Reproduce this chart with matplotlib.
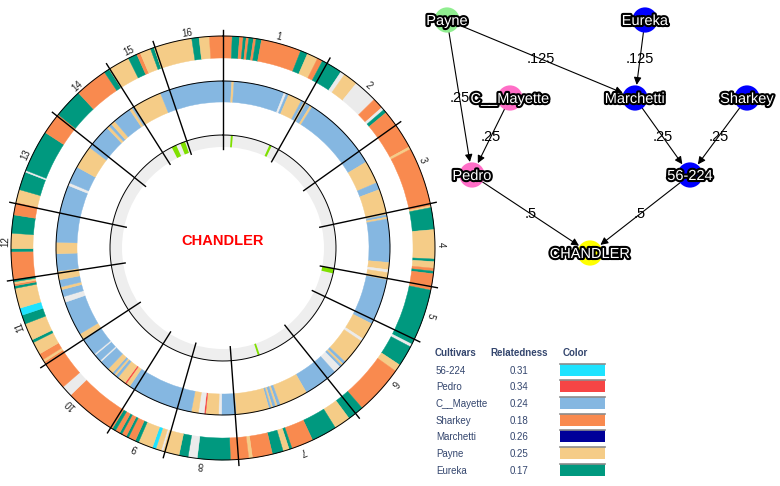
import numpy as np
import matplotlib.pyplot as plt
import matplotlib.patheffects as pe
from matplotlib.patches import FancyArrowPatch, Rectangle

plt.rcParams['font.family'] = ['Liberation Sans', 'DejaVu Sans']

# legend table
cultivars = ['56-224', 'Pedro', 'C__Mayette', 'Sharkey', 'Marchetti', 'Payne', 'Eureka']
relatedness = [0.31, 0.34, 0.24, 0.18, 0.26, 0.25, 0.17]
cultivar_colors = ['#1EE3FF', '#F64545', '#85B7E1', '#F98A4F', '#000099', '#F5CC87', '#00997F']

# segment codes -> cultivar
codes = {'X': '56-224', 'R': 'Pedro', 'C': 'C__Mayette', 'S': 'Sharkey',
         'M': 'Marchetti', 'P': 'Payne', 'E': 'Eureka'}

# chromosome boundaries, genome position scaled to degrees
chrom_bounds = [0, 29.4, 54.6, 77.9, 100.5, 115.5, 141.3, 175.8, 195.9, 212,
                236.7, 261.3, 282.1, 308.5, 327.7, 341.3, 360]
chrom_names = [str(i) for i in range(1, 17)]

# outer track: haplotype from 56-224 side (start, end, origin)
outer_track = [
    (0, 2.5, 'S'), (2.5, 4.5, 'E'), (4.5, 5.5, 'S'), (5.5, 6.3, 'E'), (6.3, 7.0, 'S'),
    (7.0, 8.3, 'E'), (8.3, 9.0, 'S'), (9.0, 10.5, 'E'), (10.5, 21.5, 'S'), (21.5, 23.5, 'E'),
    (23.5, 26.5, 'P'), (26.5, 28.0, 'S'), (28.0, 33.8, 'E'), (33.8, 35.0, 'U'), (35.0, 39.0, 'P'),
    (39.0, 45.5, 'U'), (45.5, 48.5, 'S'), (48.5, 49.3, 'U'), (49.3, 50.3, 'E'), (50.3, 61.5, 'S'),
    (61.5, 62.2, 'P'), (62.2, 78.5, 'S'), (78.5, 79.0, 'P'), (79.0, 85.0, 'E'), (85.0, 93.0, 'P'),
    (93.0, 93.7, 'E'), (93.7, 95.5, 'P'), (95.5, 96.3, 'S'), (96.3, 97.0, 'E'), (97.0, 101.5, 'S'),
    (101.5, 117.0, 'E'), (117.0, 117.8, 'U'), (117.8, 123.5, 'E'), (123.5, 125.5, 'P'),
    (125.5, 139.0, 'S'), (139.0, 143.5, 'E'), (143.5, 148.0, 'P'), (148.0, 155.0, 'E'),
    (155.0, 161.0, 'S'), (161.0, 161.8, 'E'), (161.8, 163.5, 'P'), (163.5, 166.5, 'E'),
    (166.5, 172.0, 'S'), (172.0, 173.0, 'P'), (173.0, 178.0, 'S'), (178.0, 187.0, 'E'),
    (187.0, 189.5, 'U'), (189.5, 192.0, 'E'), (192.0, 196.5, 'P'), (196.5, 197.0, 'U'),
    (197.0, 198.5, 'P'), (198.5, 199.5, 'X'), (199.5, 203.5, 'P'), (203.5, 204.5, 'E'),
    (204.5, 206.5, 'S'), (206.5, 207.2, 'E'), (207.2, 208.5, 'S'), (208.5, 209.2, 'E'),
    (209.2, 210.5, 'S'), (210.5, 211.5, 'E'), (211.5, 226.0, 'S'), (226.0, 229.0, 'U'),
    (229.0, 237.5, 'S'), (237.5, 238.2, 'P'), (238.2, 240.0, 'S'), (240.0, 243.5, 'P'),
    (243.5, 244.3, 'E'), (244.3, 249.0, 'P'), (249.0, 251.5, 'E'), (251.5, 253.5, 'X'),
    (253.5, 259.0, 'P'), (259.0, 259.7, 'E'), (259.7, 260.2, 'S'), (260.2, 260.8, 'P'),
    (260.8, 261.5, 'E'), (261.5, 269.0, 'S'), (269.0, 269.8, 'E'), (269.8, 274.0, 'P'),
    (274.0, 279.0, 'E'), (279.0, 282.5, 'S'), (282.5, 286.0, 'P'), (286.0, 291.0, 'E'),
    (291.0, 291.5, 'U'), (291.5, 303.0, 'E'), (303.0, 309.0, 'S'), (309.0, 317.0, 'E'),
    (317.0, 326.0, 'S'), (326.0, 327.5, 'E'), (327.5, 333.5, 'P'), (333.5, 336.0, 'E'),
    (336.0, 337.0, 'S'), (337.0, 340.0, 'P'), (340.0, 341.0, 'E'), (341.0, 351.5, 'P'),
    (351.5, 353.5, 'E'), (353.5, 356.3, 'P'), (356.3, 360.0, 'S'),
]

# middle track: haplotype from Pedro side
middle_track = [
    (0, 3.0, 'C'), (3.0, 3.8, 'P'), (3.8, 21.5, 'C'), (21.5, 22.3, 'U'), (22.3, 23.2, 'C'),
    (23.2, 28.0, 'P'), (28.0, 29.0, 'C'), (29.0, 30.0, 'P'), (30.0, 31.5, 'C'), (31.5, 32.3, 'P'),
    (32.3, 59.0, 'C'), (59.0, 67.0, 'P'), (67.0, 69.5, 'C'), (69.5, 78.5, 'P'), (78.5, 79.3, 'C'),
    (79.3, 80.0, 'P'), (80.0, 95.0, 'C'), (95.0, 97.5, 'P'), (97.5, 98.5, 'U'), (98.5, 101.0, 'P'),
    (101.0, 117.0, 'C'), (117.0, 123.0, 'P'), (123.0, 124.0, 'U'), (124.0, 133.0, 'P'),
    (133.0, 134.0, 'C'), (134.0, 134.7, 'P'), (134.7, 135.5, 'C'), (135.5, 138.0, 'U'),
    (138.0, 150.0, 'C'), (150.0, 160.0, 'P'), (160.0, 161.0, 'C'), (161.0, 161.7, 'P'),
    (161.7, 162.7, 'C'), (162.7, 163.3, 'P'), (163.3, 164.0, 'C'), (164.0, 175.5, 'P'),
    (175.5, 180.5, 'C'), (180.5, 181.5, 'U'), (181.5, 186.0, 'P'), (186.0, 186.5, 'R'),
    (186.5, 188.5, 'U'), (188.5, 191.0, 'P'), (191.0, 214.0, 'C'), (214.0, 215.5, 'P'),
    (215.5, 216.0, 'R'), (216.0, 219.0, 'P'), (219.0, 220.0, 'C'), (220.0, 220.7, 'P'),
    (220.7, 221.5, 'C'), (221.5, 223.5, 'P'), (223.5, 227.0, 'C'), (227.0, 227.5, 'U'),
    (227.5, 230.0, 'C'), (230.0, 230.5, 'U'), (230.5, 237.0, 'C'), (237.0, 239.0, 'P'),
    (239.0, 251.0, 'C'), (251.0, 253.0, 'U'), (253.0, 255.5, 'C'), (255.5, 256.5, 'P'),
    (256.5, 259.0, 'C'), (259.0, 262.0, 'P'), (262.0, 268.0, 'C'), (268.0, 272.0, 'P'),
    (272.0, 292.0, 'C'), (292.0, 293.0, 'U'), (293.0, 299.0, 'C'), (299.0, 307.0, 'P'),
    (307.0, 316.0, 'C'), (316.0, 317.0, 'P'), (317.0, 318.0, 'C'), (318.0, 319.5, 'P'),
    (319.5, 326.0, 'C'), (326.0, 327.0, 'P'), (327.0, 328.0, 'C'), (328.0, 338.0, 'P'),
    (338.0, 360.0, 'C'),
]

# inner track: flagged regions
inner_flags = [(4.0, 5.0), (24.3, 25.5), (100.5, 103.0), (161.0, 162.0),
               (333.0, 335.5), (337.8, 340.3)]

# pedigree
nodes = ['Payne', 'Eureka', 'C__Mayette', 'Marchetti', 'Sharkey', 'Pedro', '56-224', 'CHANDLER']
node_colors = ['#90EE90', '#0000FF', '#FF6EC7', '#0000FF', '#0000FF', '#FF6EC7', '#0000FF', '#FFFF00']
edges = [('Payne', 'Pedro', 0.25), ('Payne', 'Marchetti', 0.125), ('Eureka', 'Marchetti', 0.125),
         ('C__Mayette', 'Pedro', 0.25), ('Marchetti', '56-224', 0.25), ('Sharkey', '56-224', 0.25),
         ('Pedro', 'CHANDLER', 0.5), ('56-224', 'CHANDLER', 0.5)]

# graph layout (pixels)
node_xy = {'Payne': (447, 20), 'Eureka': (645, 20), 'C__Mayette': (510, 98),
           'Marchetti': (635, 98), 'Sharkey': (747, 98), 'Pedro': (472, 175),
           '56-224': (690, 175), 'CHANDLER': (590, 253)}

seg_color = {k: cultivar_colors[cultivars.index(v)] for k, v in codes.items()}
seg_color['U'] = '#EBEBEB'

W, H = 780, 486
fig = plt.figure(figsize=(W / 100, H / 100), dpi=100)

# overlay axes in pixel units for graph + table
ax = fig.add_axes([0, 0, 1, 1])
ax.set_xlim(0, W)
ax.set_ylim(H, 0)
ax.axis('off')
ax.patch.set_visible(False)

# circos-like plot
cx, cy, R = 223, 248, 222
axc = fig.add_axes([(cx - R) / W, (H - cy - R) / H, 2 * R / W, 2 * R / H], projection='polar')
axc.set_theta_zero_location('N')
axc.set_theta_direction(-1)
axc.set_ylim(0, R)
axc.axis('off')
axc.patch.set_visible(False)


def draw_track(track, r0, r1):
    start = np.radians([s[0] for s in track])
    width = np.radians([s[1] - s[0] for s in track])
    cols = [seg_color[s[2]] for s in track]
    axc.bar(start, r1 - r0, width=width, bottom=r0, align='edge',
            color=cols, edgecolor=cols, linewidth=0.3)


draw_track(outer_track, 190, 212)
draw_track(middle_track, 146, 167)

# inner grey ring with flagged bits
axc.bar(0, 12, width=2 * np.pi, bottom=101, align='edge', color='#EEEEEE', linewidth=0)
fs = np.radians([f[0] for f in inner_flags])
fw = np.radians([f[1] - f[0] for f in inner_flags])
axc.bar(fs, 12, width=fw, bottom=101, align='edge', color='#7FE000', linewidth=0)

t = np.linspace(0, 2 * np.pi, 600)
for r in [212, 167, 113]:
    axc.plot(t, np.full_like(t, r), color='black', lw=0.7)

for b in chrom_bounds[:-1]:
    axc.plot([np.radians(b)] * 2, [99, 218], color='black', lw=1.0, clip_on=False)

for i, name in enumerate(chrom_names):
    mid = (chrom_bounds[i] + chrom_bounds[i + 1]) / 2
    axc.text(np.radians(mid), 213, name, rotation=-mid, rotation_mode='anchor',
             ha='center', va='bottom', fontsize=7, color='#222222', clip_on=False)

axc.text(0, 7, 'CHANDLER', ha='center', va='center', fontsize=10.5,
         fontweight='bold', color='#FF0000')

# pedigree graph
for src, dst, w in edges:
    (x0, y0), (x1, y1) = node_xy[src], node_xy[dst]
    ax.add_patch(FancyArrowPatch((x0, y0), (x1, y1), arrowstyle='-|>', mutation_scale=11,
                                 shrinkA=9, shrinkB=9.5, color='black', lw=0.8, zorder=2))
    ax.text((x0 + x1) / 2, (y0 + y1) / 2, f'{w:g}'.lstrip('0'), ha='center', va='center',
            fontsize=10.5, color='black', zorder=2)

for name, col in zip(nodes, node_colors):
    x, y = node_xy[name]
    ax.scatter([x], [y], s=330, color=col, edgecolors='none', zorder=3)
    ax.text(x, y + 1, name, ha='center', va='center', fontsize=10.5, color='white', zorder=4,
            path_effects=[pe.withStroke(linewidth=3, foreground='black')])

# legend table
tcol = '#34466E'
ax.text(435, 353, 'Cultivars', fontsize=7, fontweight='bold', color=tcol, va='center')
ax.text(519, 353, 'Relatedness', fontsize=7, fontweight='bold', color=tcol, va='center', ha='center')
ax.text(563, 353, 'Color', fontsize=7, fontweight='bold', color=tcol, va='center')
for i, (name, rel, col) in enumerate(zip(cultivars, relatedness, cultivar_colors)):
    y = 370.7 + i * 16.67
    ax.text(436, y, name, fontsize=7, color=tcol, va='center')
    ax.text(519, y, f'{rel:.2f}', fontsize=7, color=tcol, va='center', ha='center')
    ax.add_patch(Rectangle((560, y - 7), 45, 12, facecolor=col, edgecolor='none'))
    ax.plot([560, 605], [y - 7, y - 7], color='#8C8C8C', lw=1.2)

fig.savefig('out.png', dpi=100)
